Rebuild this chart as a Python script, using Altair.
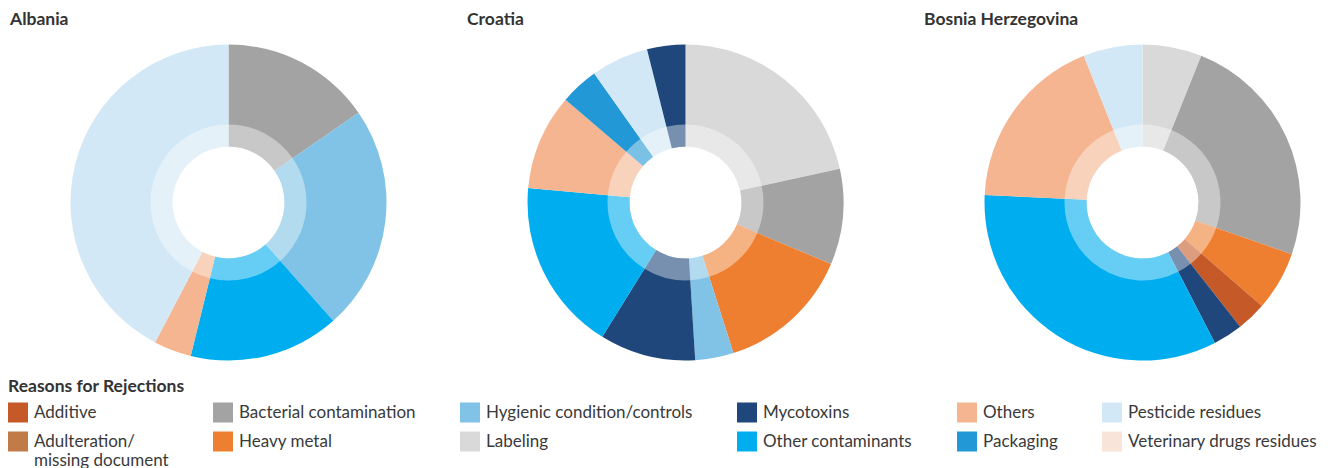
import altair as alt
import pandas as pd

countries = ["Albania", "Croatia", "Bosnia Herzegovina"]

albania_reasons = ["Bacterial contamination", "Hygienic condition/controls",
                   "Other contaminants", "Others", "Pesticide residues"]
albania_counts = [4, 6, 4, 1, 11]

croatia_reasons = ["Labeling", "Bacterial contamination", "Heavy metal",
                   "Hygienic condition/controls", "Mycotoxins", "Other contaminants",
                   "Others", "Packaging", "Pesticide residues", "Mycotoxins"]
croatia_counts = [11, 5, 7, 2, 5, 9, 5, 2, 3, 2]

bosnia_reasons = ["Labeling", "Bacterial contamination", "Heavy metal", "Additive",
                  "Mycotoxins", "Other contaminants", "Others", "Pesticide residues"]
bosnia_counts = [2, 8, 2, 1, 1, 11, 6, 2]

legend_reasons = ["Additive", "Bacterial contamination", "Hygienic condition/controls",
                  "Mycotoxins", "Others", "Pesticide residues",
                  "Adulteration/ missing document", "Heavy metal", "Labeling",
                  "Other contaminants", "Packaging", "Veterinary drugs residues"]
legend_colors = ["#C55A28", "#A3A3A3", "#80C3E6",
                 "#1F477B", "#F5B590", "#D2E8F6",
                 "#C07B48", "#EE7F31", "#D9D9D9",
                 "#00AEEF", "#2398D6", "#F8E4D9"]

rows = []
for country, reasons, counts in [(countries[0], albania_reasons, albania_counts),
                                 (countries[1], croatia_reasons, croatia_counts),
                                 (countries[2], bosnia_reasons, bosnia_counts)]:
    for i, (r, c) in enumerate(zip(reasons, counts)):
        rows.append({"country": country, "reason": r, "count": c, "order": i})
df = pd.DataFrame(rows)
titles_df = pd.DataFrame({"country": countries})

xenc = alt.X("country:N",
             scale=alt.Scale(type="point", domain=countries, padding=0.4661, align=0.5364),
             axis=None)
theta = alt.Theta("t0:Q", scale=alt.Scale(domain=[0, 1]))

base = (alt.Chart(df)
        .transform_joinaggregate(total="sum(count)", groupby=["country"])
        .transform_window(cum="sum(count)", groupby=["country"],
                          sort=[alt.SortField("order")], frame=[None, 0])
        .transform_calculate(t0="(datum.cum - datum.count) / datum.total",
                             t1="datum.cum / datum.total"))

color = alt.Color(
    "reason:N",
    scale=alt.Scale(domain=legend_reasons, range=legend_colors),
    legend=alt.Legend(
        title="Reasons for Rejections", orient="none", legendX=8, legendY=378,
        direction="horizontal", columns=6, symbolType="square", symbolSize=400,
        symbolStrokeWidth=0, symbolOpacity=1,
        labelFont="Lato", labelFontSize=17, labelColor="#3a3a3a", labelLimit=300,
        titleFont="Lato", titleFontSize=17.5, titleFontWeight="bold", titleColor="#333333",
        columnPadding=44, rowPadding=9, labelOffset=6, titlePadding=7,
        labelExpr="datum.label == 'Adulteration/ missing document' ? ['Adulteration/', 'missing document'] : datum.label",
    ),
)

outer = base.mark_arc(innerRadius=56, outerRadius=158).encode(
    x=xenc, theta=theta, theta2="t1:Q", color=color)

inner = base.mark_arc(innerRadius=56, outerRadius=78, color="white", opacity=0.4).encode(
    x=xenc, theta=theta, theta2="t1:Q")

titles = alt.Chart(titles_df).mark_text(
    align="left", baseline="middle", dx=-218.5, font="Lato", fontSize=17.5,
    fontWeight="bold", color="#333333"
).encode(x=xenc, y=alt.value(20), text="country:N")

chart = (alt.layer(outer, inner, titles)
         .properties(width=1340, height=405, padding=0)
         .configure_view(stroke=None))

chart.save("out.html", embed_options={"renderer": "svg", "actions": False})
